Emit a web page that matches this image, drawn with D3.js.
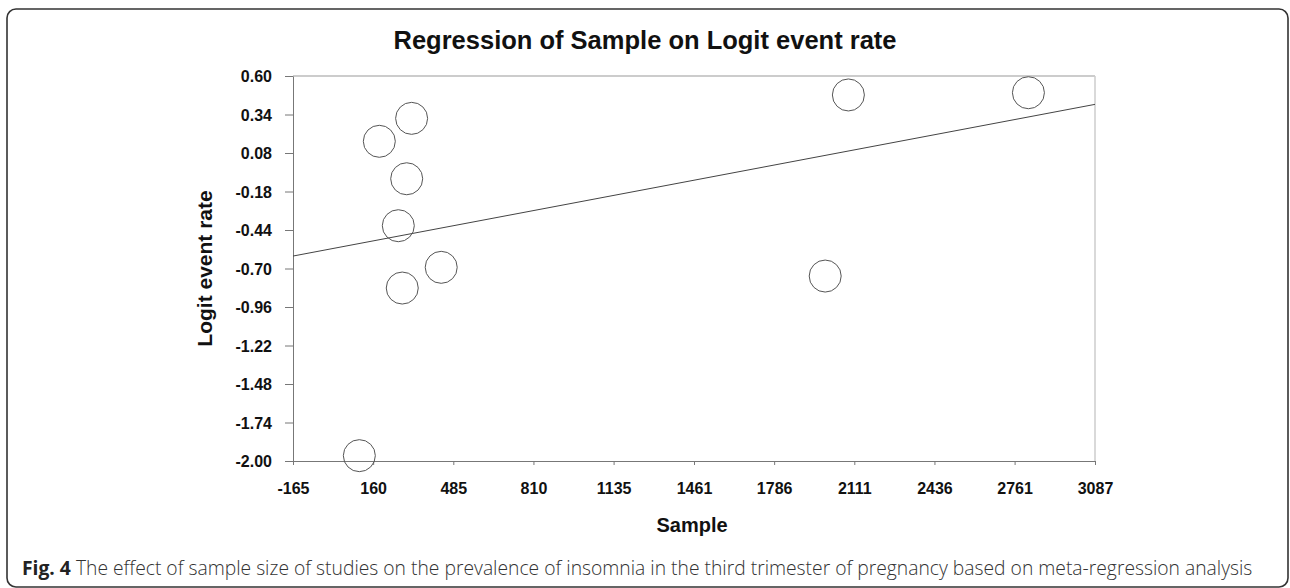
<!DOCTYPE html>
<html>
<head>
<meta charset="utf-8">
<script src="https://cdn.jsdelivr.net/npm/d3@7"></script>
<style>
  body { margin: 0; background: #fff; }
  svg { display: block; }
</style>
</head>
<body>
<div id="chart"></div>
<script>
// studies: sample size and logit event rate
const sample = [104, 185, 262, 278, 296, 316, 436, 1993, 2087, 2817];
const logitRate = [-1.964, 0.159, -0.411, -0.832, -0.094, 0.314, -0.692, -0.751, 0.472, 0.487];
// fitted regression line: intercept, slope
const regression = [-0.564, 0.000315];
const xTicks = [-165, 160, 485, 810, 1135, 1461, 1786, 2111, 2436, 2761, 3087];
const yTicks = [0.60, 0.34, 0.08, -0.18, -0.44, -0.70, -0.96, -1.22, -1.48, -1.74, -2.00];

const width = 1290, height = 588;
const margin = { top: 76, right: 195, bottom: 127, left: 293 };

// plain hyphen for negative numbers, like the original
const locale = d3.formatLocale({ decimal: ".", thousands: "", grouping: [3], currency: ["", ""], minus: "-" });

const svg = d3.select("#chart").append("svg")
  .attr("width", width)
  .attr("height", height);

// outer rounded frame
svg.append("rect")
  .attr("x", 7).attr("y", 9)
  .attr("width", 1281).attr("height", 578)
  .attr("rx", 9)
  .attr("fill", "none")
  .attr("stroke", "#333")
  .attr("stroke-width", 1.6);

const x = d3.scaleLinear().domain([-165, 3087]).range([margin.left, width - margin.right]);
const y = d3.scaleLinear().domain([-2.0, 0.6]).range([height - margin.bottom, margin.top]);

// title
svg.append("text")
  .attr("x", 645)
  .attr("y", 49)
  .attr("text-anchor", "middle")
  .style("font", "bold 25.5px 'Liberation Sans', Arial, sans-serif")
  .attr("fill", "#111")
  .text("Regression of Sample on Logit event rate");

// top and right border of plot
svg.append("line")
  .attr("x1", x.range()[0]).attr("x2", x.range()[1])
  .attr("y1", y.range()[1]).attr("y2", y.range()[1])
  .attr("stroke", "#999");
svg.append("line")
  .attr("x1", x.range()[1]).attr("x2", x.range()[1])
  .attr("y1", y.range()[1]).attr("y2", y.range()[0])
  .attr("stroke", "#ccc")
  .attr("stroke-width", 1.5);

// axes
const xAxis = svg.append("g")
  .attr("transform", "translate(0," + y.range()[0] + ")")
  .call(d3.axisBottom(x).tickValues(xTicks).tickFormat(locale.format("d")).tickSizeInner(4).tickSizeOuter(0).tickPadding(18));

const yAxis = svg.append("g")
  .attr("transform", "translate(" + x.range()[0] + ",0)")
  .call(d3.axisLeft(y).tickValues(yTicks).tickFormat(locale.format(".2f")).tickSizeInner(8).tickSizeOuter(0).tickPadding(13));

[xAxis, yAxis].forEach(function (g) {
  g.select(".domain").attr("stroke", "#777");
  g.selectAll(".tick line").attr("stroke", "#777");
  g.selectAll(".tick text")
    .attr("fill", "#111")
    .style("font", "bold 16px 'Liberation Sans', Arial, sans-serif");
});
yAxis.selectAll(".tick text").attr("dy", "0.35em");

// regression line
const line = d3.line()
  .x(function (d) { return x(d); })
  .y(function (d) { return y(regression[0] + regression[1] * d); });

svg.append("path")
  .datum(x.domain())
  .attr("d", line)
  .attr("fill", "none")
  .attr("stroke", "#444")
  .attr("stroke-width", 1);

// study circles
svg.append("g")
  .selectAll("circle")
  .data(sample)
  .join("circle")
  .attr("cx", function (d) { return x(d); })
  .attr("cy", function (d, i) { return y(logitRate[i]); })
  .attr("r", 16)
  .attr("fill", "none")
  .attr("stroke", "#555")
  .attr("stroke-width", 1);

// axis titles
svg.append("text")
  .attr("x", 692)
  .attr("y", 532)
  .attr("text-anchor", "middle")
  .style("font", "bold 20px 'Liberation Sans', Arial, sans-serif")
  .attr("fill", "#111")
  .text("Sample");

svg.append("text")
  .attr("transform", "translate(212," + (y.range()[0] + y.range()[1]) / 2 + ") rotate(-90)")
  .attr("text-anchor", "middle")
  .style("font", "bold 21px 'Liberation Sans', Arial, sans-serif")
  .attr("fill", "#111")
  .text("Logit event rate");

// caption
const caption = svg.append("text")
  .attr("x", 22)
  .attr("y", 575)
  .style("font", "300 19.3px 'Open Sans', sans-serif")
  .attr("fill", "#333");
caption.append("tspan")
  .style("font-weight", "bold")
  .attr("fill", "#222")
  .text("Fig. 4");
caption.append("tspan")
  .text(" The effect of sample size of studies on the prevalence of insomnia in the third trimester of pregnancy based on meta-regression analysis");
</script>
</body>
</html>
